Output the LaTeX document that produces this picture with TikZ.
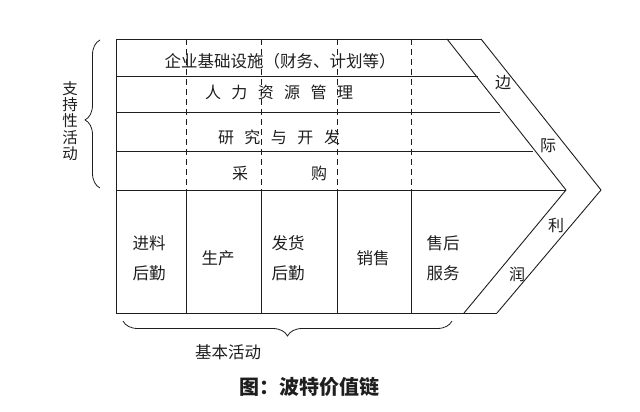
\documentclass[tikz,border=0pt]{standalone}
\usepackage{fontspec}
\setmainfont{Noto Sans CJK SC}
\usetikzlibrary{decorations.pathreplacing}
\definecolor{ink}{HTML}{1E1E1E}
\begin{document}
\begin{tikzpicture}[x=1pt,y=-1pt,line width=0.9pt,
  frame/.style={draw=ink,line width=0.9pt},
  dashline/.style={draw=ink,line width=0.9pt,dash pattern=on 6pt off 4pt},
  lbl/.style={text=ink,inner sep=0pt,font=\fontsize{16}{19}\selectfont},
  lbl2/.style={text=ink,inner sep=0pt,align=center,font=\fontsize{16.5}{30}\selectfont},
  bracestyle/.style={draw=ink,line width=0.8pt,decorate,decoration={brace,amplitude=15pt}}]
\useasboundingbox (0,0) rectangle (640,412);
% key points
\coordinate (tl) at (116,39);
\coordinate (bl) at (116,313);
\coordinate (it) at (447,39);
\coordinate (ot) at (481,39);
\coordinate (ia) at (566,190);
\coordinate (oa) at (601,190);
\coordinate (ib) at (464,313);
\coordinate (ob) at (497,313);
% outline
\draw[frame] (ot) -- (tl) -- (bl) -- (ob);
\draw[frame] (it) -- (ia) -- (ib);
\draw[frame] (ot) -- (oa) -- (ob);
% row lines
\draw[frame] (116,76) -- (478,76);
\draw[frame] (116,112) -- (500,112);
\draw[frame] (116,151) -- (533,151);
\draw[frame] (116,190) -- (ia);
% column lines
\foreach \cx in {186,261,337,411}{
  \draw[dashline] (\cx,39) -- (\cx,190);
  \draw[frame] (\cx,190) -- (\cx,313);
}
% support activity labels
\node[lbl,font=\fontsize{16.5}{19}\selectfont] (infra) at (280,61) {企业基础设施（财务、计划等）};
\node[lbl] (hr) at (279,92) {人\hspace{10.4pt}力\hspace{10.4pt}资\hspace{10.4pt}源\hspace{10.4pt}管\hspace{10.4pt}理};
\node[lbl] (rd) at (279,137) {研\hspace{10.5pt}究\hspace{10.5pt}与\hspace{10.5pt}开\hspace{10.5pt}发};
\node[lbl] (pc1) at (240,173) {采};
\node[lbl] (pc2) at (319,173) {购};
% primary activity labels
\node[lbl2] (in) at (149,258) {进料\\后勤};
\node[lbl2] (op) at (218,258) {生产};
\node[lbl2] (out) at (288,258) {发货\\后勤};
\node[lbl2] (ms) at (373,258) {销售};
\node[lbl2] (sv) at (443,258) {售后\\服务};
% margin labels
\node[lbl] (m1) at (503,83) {边};
\node[lbl] (m2) at (548,146) {际};
\node[lbl] (m3) at (556,225) {利};
\node[lbl] (m4) at (517,274) {润};
% braces
\coordinate (lb1) at (100,188);
\coordinate (lb2) at (100,40);
\draw[bracestyle,decoration={aspect=0.46}] (lb1) -- (lb2);
\node[lbl,align=center,font=\fontsize{15.5}{16.2}\selectfont] (sup) at (70,121) {支\\持\\性\\活\\动};
\coordinate (bb1) at (452,321);
\coordinate (bb2) at (123,321);
\draw[bracestyle] (bb1) -- (bb2);
\node[lbl,font=\fontsize{16.5}{19}\selectfont] (pri) at (228,352) {基本活动};
% caption
\node[lbl,font=\fontsize{20}{24}\selectfont\bfseries] (cap) at (309,387) {图：波特价值链};
\end{tikzpicture}
\end{document}
